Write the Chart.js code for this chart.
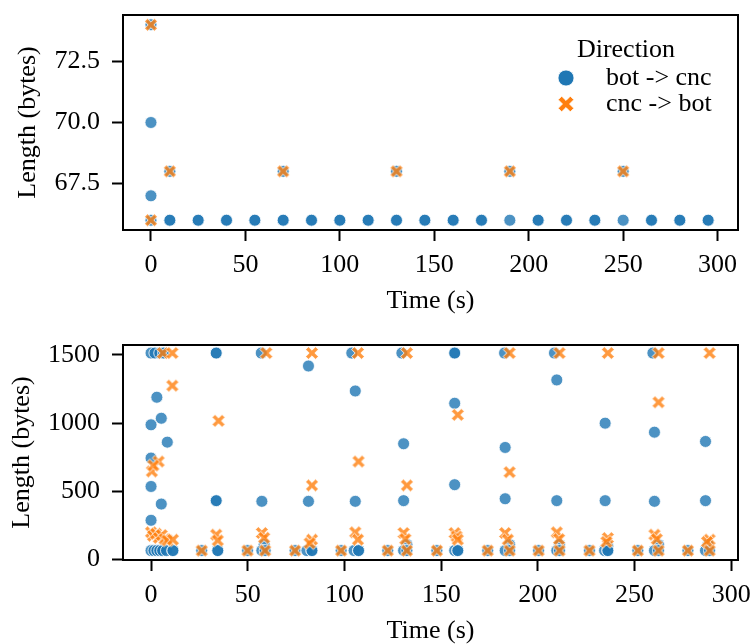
<!DOCTYPE html>
<html>
<head>
<meta charset="utf-8">
<script src="https://cdn.jsdelivr.net/npm/chart.js@4"></script>
<style>
body { margin: 0; background: #fff; }
canvas { display: block; }
</style>
</head>
<body>
<canvas id="topChart" width="752" height="322"></canvas>
<canvas id="bottomChart" width="752" height="322"></canvas>
<script>
// ---- top panel (small packets) ----
var topBotTime = [0, 0, 0, 0, 10, 10, 10, 25, 25, 40, 40, 55, 55, 70, 70, 70, 85, 85, 100, 100,
  115, 115, 130, 130, 130, 145, 145, 160, 160, 175, 175, 190, 190, 205, 205, 220, 220, 235, 235,
  250, 250, 265, 265, 280, 280, 295, 295];
var topBotLen = [74, 70, 67, 66, 68, 66, 66, 66, 66, 66, 66, 66, 66, 68, 66, 66, 66, 66, 66, 66,
  66, 66, 68, 66, 66, 66, 66, 66, 66, 66, 66, 68, 66, 66, 66, 66, 66, 66, 66,
  68, 66, 66, 66, 66, 66, 66, 66];
var topCncTime = [0, 0, 10, 70, 130, 190, 250];
var topCncLen = [74, 66, 68, 68, 68, 68, 68];

// ---- bottom panel (all packets) ----
var botTime = [0, 2, 4.5, 6.5, 0, 0, 0, 0, 3, 5.3, 8.4, 5.3,
  0, 1.5, 3, 4.5, 6, 8, 11.3, 11.3,
  26.2, 49.9, 74.5, 98.3, 122.4, 147.8, 174.1, 200.4, 226.7, 251.7, 277.6,
  33.7, 33.7, 33.7, 33.7, 34.5, 34.5,
  57, 57.3, 58.5, 57.3, 59,
  81.4, 81.4, 80.6, 83.2, 83.2,
  103.8, 105.6, 105.6, 105, 107.3, 107.3,
  129.7, 130.6, 130.6, 132.3, 130.6, 132.3,
  157, 157, 157, 157, 157, 158.6, 158.6,
  182.8, 183.1, 183.1, 185.4, 183.1, 185.4,
  208.6, 209.8, 209.8, 211.2, 209.8, 211.2,
  234.8, 234.8, 236.2, 234.5, 236.2, 236.2,
  259.5, 260.3, 260.3, 262.4, 260.3, 262.4,
  286.7, 286.7, 288, 286.7, 288.8];
var botLen = [1514, 1514, 1514, 1514, 988, 744, 536, 288, 1190, 1036, 861, 407,
  66, 66, 66, 66, 66, 66, 66, 66,
  66, 66, 66, 66, 66, 66, 66, 66, 66, 66, 66,
  1514, 1514, 432, 432, 66, 66,
  1514, 427, 110, 66, 66,
  1419, 427, 66, 66, 66,
  1514, 1236, 427, 66, 66, 66,
  1514, 849, 432, 110, 66, 66,
  1514, 1514, 1146, 549, 66, 66, 66,
  1514, 822, 446, 110, 66, 66,
  1514, 1317, 432, 110, 66, 66,
  1000, 432, 100, 66, 66, 66,
  1514, 934, 427, 110, 66, 66,
  866, 432, 110, 66, 66];
var cncTime = [6.1, 11, 11, 3.9, 0.4, 1.2, 0, 1, 2.5, 4, 5.5, 7, 8.5, 11.3,
  26.2, 49.9, 74.5, 98.3, 122.4, 147.8, 174.1, 200.4, 226.7, 251.7, 277.6,
  34.9, 33.7, 34.5,
  59.6, 57.3, 58.5, 59,
  83.2, 83.2, 83.2, 82,
  107, 107.3, 105.6, 107,
  132.3, 132.3, 130.6, 131.5, 132.3,
  158.6, 157, 158, 158.6,
  185.4, 185.4, 183.1, 184.5, 185.4,
  211.2, 209.8, 211, 211.2,
  236.2, 236.2, 235.5,
  262.4, 262.4, 260.3, 261.5, 262.4,
  288.8, 288.8, 287.5, 288.8];
var cncLen = [1514, 1514, 1275, 719, 646, 690, 200, 175, 190, 160, 180, 150, 140, 146,
  66, 66, 66, 66, 66, 66, 66, 66, 66, 66, 66,
  1017, 183, 140,
  1514, 195, 160, 66,
  1514, 544, 146, 120,
  1514, 719, 200, 146,
  1514, 544, 195, 150, 66,
  1061, 195, 170, 146,
  1514, 641, 195, 146, 66,
  1514, 200, 150, 66,
  1514, 158, 130,
  1514, 1153, 183, 150, 66,
  1514, 146, 130, 66];

var timeTicks = [0, 50, 100, 150, 200, 250, 300];
var topLenTicks = [67.5, 70, 72.5];
var bottomLenTicks = [0, 500, 1000, 1500];

var FONT = '"Liberation Serif", "Times New Roman", serif';
var BLUE = 'rgba(31,119,180,0.8)';

function zip(xs, ys) {
  var out = [];
  for (var i = 0; i < xs.length; i++) out.push({x: xs[i], y: ys[i]});
  return out;
}

// filled "X" marker like seaborn's
function xMarker(size, a, L, alpha) {
  var c = document.createElement('canvas');
  c.width = size; c.height = size;
  var g = c.getContext('2d');
  g.translate(size / 2, size / 2);
  g.rotate(Math.PI / 4);
  var p = [[-a,-L],[a,-L],[a,-a],[L,-a],[L,a],[a,a],[a,L],[-a,L],[-a,a],[-L,a],[-L,-a],[-a,-a]];
  g.beginPath();
  g.moveTo(p[0][0], p[0][1]);
  for (var i = 1; i < p.length; i++) g.lineTo(p[i][0], p[i][1]);
  g.closePath();
  g.fillStyle = 'rgba(255,127,14,' + alpha + ')';
  g.fill();
  g.strokeStyle = '#fff';
  g.lineWidth = 0.8;
  g.stroke();
  return c;
}
var xPoint = xMarker(16, 2.0, 7.0, 0.8);
var xLegend = xMarker(20, 2.5, 8.6, 1);

var boxPlugin = {
  id: 'box',
  afterDraw: function(chart) {
    var a = chart.chartArea, ctx = chart.ctx;
    ctx.save();
    ctx.strokeStyle = '#000';
    ctx.lineWidth = 2;
    ctx.strokeRect(a.left, a.top, a.right - a.left, a.bottom - a.top);
    ctx.restore();
  }
};

var legendPlugin = {
  id: 'dirLegend',
  afterDraw: function(chart) {
    var ctx = chart.ctx;
    ctx.save();
    ctx.font = '26px ' + FONT;
    ctx.fillStyle = '#000';
    ctx.textBaseline = 'middle';
    ctx.textAlign = 'center';
    ctx.fillText('Direction', 626, 50);
    ctx.textAlign = 'left';
    ctx.fillText('bot -> cnc', 606, 78);
    ctx.fillText('cnc -> bot', 606, 104);
    ctx.beginPath();
    ctx.arc(566, 78, 8, 0, Math.PI * 2);
    ctx.fillStyle = '#1f77b4';
    ctx.fill();
    ctx.strokeStyle = '#fff';
    ctx.lineWidth = 0.8;
    ctx.stroke();
    ctx.drawImage(xLegend, 566 - 10, 104 - 10);
    ctx.restore();
  }
};

function makeChart(id, bot, cnc, o) {
  return new Chart(document.getElementById(id), {
    type: 'scatter',
    data: {
      datasets: [
        {label: 'cnc -> bot', data: cnc, pointStyle: xPoint, order: 0},
        {label: 'bot -> cnc', data: bot, pointStyle: 'circle', pointRadius: 6,
          backgroundColor: BLUE, borderColor: '#fff', borderWidth: 0.8, order: 1}
      ]
    },
    options: {
      responsive: false,
      animation: false,
      layout: {padding: {top: o.top, right: 14, left: 0, bottom: 0}},
      plugins: {legend: {display: false}, tooltip: {enabled: false}},
      scales: {
        x: {
          type: 'linear',
          min: o.xMin, max: o.xMax,
          afterBuildTicks: function(s) { s.ticks = timeTicks.map(function(v) { return {value: v}; }); },
          afterFit: function(s) { s.height = o.xAxisH; s.paddingLeft = 0; s.paddingRight = 0; },
          grid: {drawOnChartArea: false, drawTicks: true, tickLength: 11, tickWidth: 2, tickColor: '#000'},
          border: {display: false},
          ticks: {color: '#000', font: {family: FONT, size: 26}, padding: 9, maxRotation: 0},
          title: {display: true, text: 'Time (s)', color: '#000',
            font: {family: FONT, size: 26, lineHeight: 1}, padding: {top: 0, bottom: o.xTitlePad}}
        },
        y: {
          type: 'linear',
          min: o.yMin, max: o.yMax,
          afterBuildTicks: function(s) { s.ticks = o.yTicks.map(function(v) { return {value: v}; }); },
          afterFit: function(s) { s.width = 123; s.paddingTop = 0; s.paddingBottom = 0; },
          grid: {drawOnChartArea: false, drawTicks: true, tickLength: 11, tickWidth: 2, tickColor: '#000'},
          border: {display: false},
          ticks: {color: '#000', font: {family: FONT, size: 26}, padding: 12, callback: o.yFmt},
          title: {display: true, text: 'Length (bytes)', color: '#000',
            font: {family: FONT, size: 26, lineHeight: 1}, padding: {top: o.yTitlePad, bottom: 0}}
        }
      }
    },
    plugins: o.legend ? [boxPlugin, legendPlugin] : [boxPlugin]
  });
}

makeChart('topChart', zip(topBotTime, topBotLen), zip(topCncTime, topCncLen), {
  top: 15, xAxisH: 92, xMin: -14.8, xMax: 310.8, yMin: 65.6, yMax: 74.4,
  yTicks: topLenTicks, yFmt: function(v) { return v.toFixed(1); },
  xTitlePad: 8, yTitlePad: 15, legend: true
});

makeChart('bottomChart', zip(botTime, botLen), zip(cncTime, cncLen), {
  top: 23, xAxisH: 84, xMin: -14.5, xMax: 303.5, yMin: -3, yMax: 1573,
  yTicks: bottomLenTicks, yFmt: function(v) { return String(v); },
  xTitlePad: 0, yTitlePad: 9, legend: false
});
</script>
</body>
</html>
